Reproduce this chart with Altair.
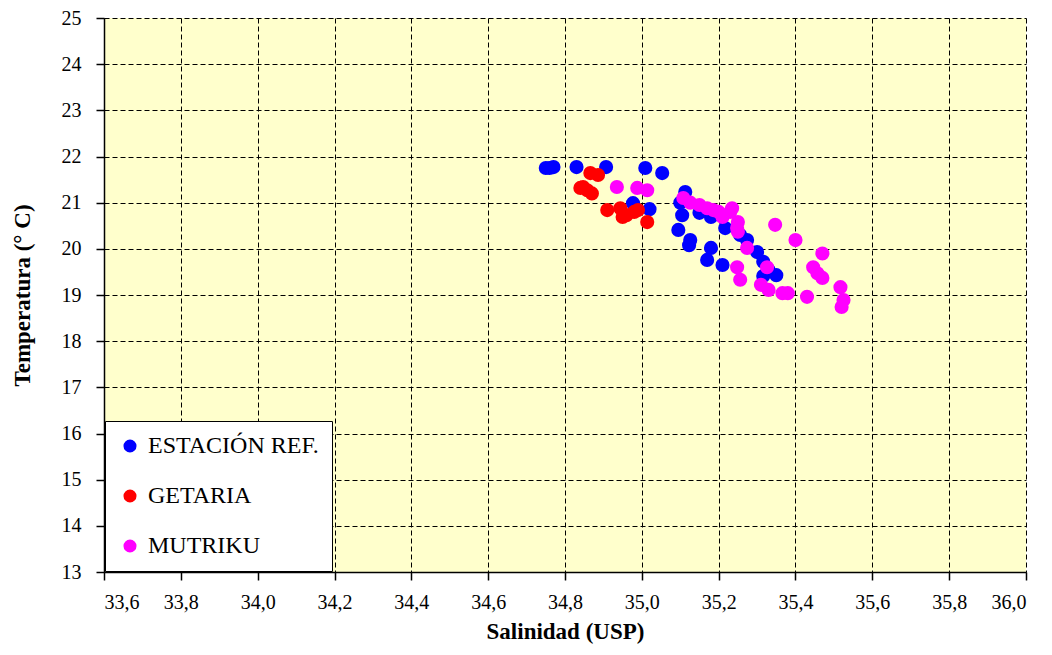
import altair as alt
import pandas as pd

series_names = ["ESTACIÓN REF.", "GETARIA", "MUTRIKU"]
series_colors = ["#0000FF", "#FF0000", "#FF00FF"]

ref_sal = [34.75, 34.76, 34.77, 34.83, 34.907, 35.009, 35.053, 34.977, 35.02, 35.113,
           35.10, 35.105, 35.095, 35.126, 35.123, 35.15, 35.18, 35.18, 35.17, 35.21,
           35.217, 35.256, 35.274, 35.30, 35.316, 35.33, 35.35, 35.316]
ref_tem = [21.75, 21.75, 21.77, 21.77, 21.77, 21.75, 21.64, 20.99, 20.86, 21.23,
           21.00, 20.73, 20.41, 20.19, 20.08, 20.78, 20.69, 20.02, 19.76, 19.65,
           20.45, 20.30, 20.19, 19.93, 19.72, 19.54, 19.43, 19.41]

get_sal = [34.866, 34.886, 34.847, 34.858, 34.87, 34.84, 34.91, 34.944, 34.96, 34.98,
           34.99, 35.014, 34.95]
get_tem = [21.64, 21.60, 21.34, 21.27, 21.20, 21.32, 20.84, 20.88, 20.73, 20.80,
           20.84, 20.58, 20.69]

mut_sal = [34.935, 34.988, 35.014, 35.108, 35.126, 35.15, 35.17, 35.186, 35.20, 35.21,
           35.23, 35.235, 35.25, 35.248, 35.25, 35.347, 35.40, 35.274, 35.248, 35.256,
           35.326, 35.31, 35.33, 35.366, 35.38, 35.43, 35.47, 35.446, 35.457, 35.47,
           35.517, 35.525, 35.52]
mut_tem = [21.34, 21.32, 21.27, 21.10, 21.00, 20.95, 20.88, 20.84, 20.80, 20.69,
           20.80, 20.88, 20.58, 20.45, 20.37, 20.52, 20.19, 20.02, 19.60, 19.33,
           19.60, 19.22, 19.11, 19.04, 19.04, 18.96, 19.90, 19.60, 19.47, 19.37,
           19.17, 18.89, 18.74]

x_ticks = [33.6, 33.8, 34.0, 34.2, 34.4, 34.6, 34.8, 35.0, 35.2, 35.4, 35.6, 35.8, 36.0]
y_ticks = list(range(13, 26))

rows = []
for name, s_list, t_list in [(series_names[0], ref_sal, ref_tem),
                             (series_names[1], get_sal, get_tem),
                             (series_names[2], mut_sal, mut_tem)]:
    for s, t in zip(s_list, t_list):
        rows.append({"serie": name, "sal": s, "tem": t})
df = pd.DataFrame(rows)

FONT = "Liberation Serif"

chart = alt.Chart(df).mark_circle(size=200, opacity=1).encode(
    x=alt.X("sal:Q",
            scale=alt.Scale(domain=[33.6, 36.0], nice=False, zero=False),
            axis=alt.Axis(values=x_ticks, title="Salinidad (USP)",
                          labelExpr="replace(format(datum.value, '.1f'), '.', ',')",
                          tickSize=8, labelPadding=12, titlePadding=8)),
    y=alt.Y("tem:Q",
            scale=alt.Scale(domain=[13, 25], nice=False, zero=False),
            axis=alt.Axis(values=y_ticks, title="Temperatura (° C)",
                          tickSize=8, labelPadding=15, titlePadding=27)),
    color=alt.Color("serie:N",
                    scale=alt.Scale(domain=series_names, range=series_colors),
                    legend=alt.Legend(title=None, orient="none", legendX=1, legendY=403,
                                      fillColor="white", strokeColor="black",
                                      padding=13, symbolType="circle", symbolSize=170,
                                      labelFontSize=24, labelFont=FONT, labelColor="black",
                                      labelLimit=400, rowPadding=26, labelOffset=6)),
    order=alt.Order("ord:Q"),
).transform_calculate(
    ord="datum.serie == 'ESTACIÓN REF.' ? 0 : (datum.serie == 'GETARIA' ? 1 : 2)"
).properties(
    width=922, height=554,
    autosize=alt.AutoSizeParams(type="none"),
    padding={"left": 96, "top": 10, "right": 18, "bottom": 75},
).configure_view(
    fill="#FFFFCC", stroke=None
).configure_axis(
    grid=True, gridColor="black", gridDash=[5, 3], gridWidth=1, gridOpacity=1,
    domainColor="black", domainWidth=1.5, tickColor="black", tickWidth=1.5,
    labelFont=FONT, labelFontSize=20, labelColor="black",
    titleFont=FONT, titleFontSize=23, titleFontWeight="bold", titleColor="black",
)

chart.save("out.html", embed_options={"renderer": "svg", "actions": False})
